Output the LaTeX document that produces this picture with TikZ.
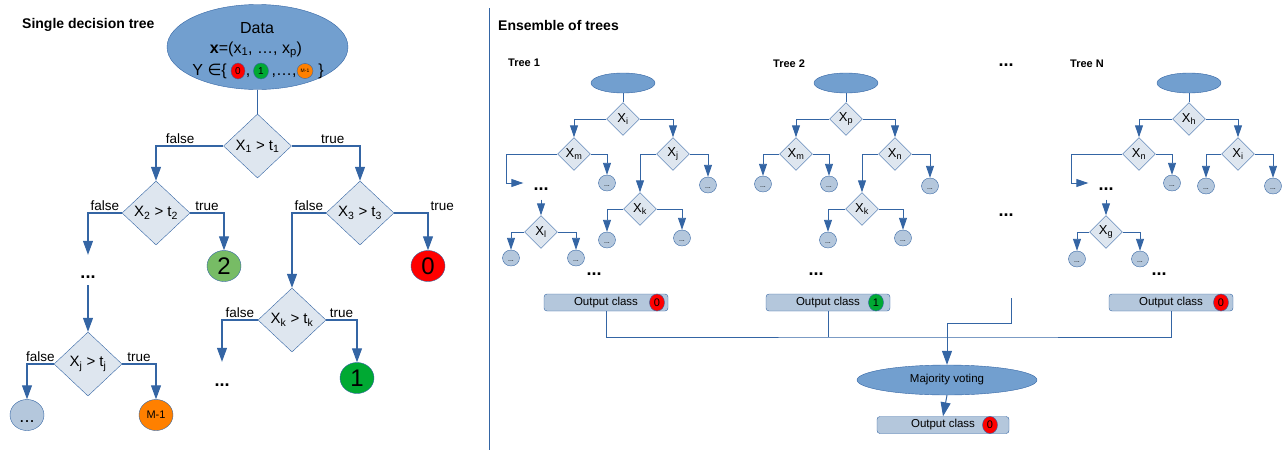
\documentclass[tikz,border=0pt]{standalone}
\usepackage{fontspec}
\setmainfont{Liberation Sans}
\newfontfamily\symfont{DejaVu Sans}
\usetikzlibrary{positioning, arrows.meta, shapes.geometric}

\definecolor{lineblue}{HTML}{3465A4}
\definecolor{rootblue}{HTML}{729FCF}
\definecolor{diamfill}{HTML}{DEE6EF}
\definecolor{leafblue}{HTML}{B4C7DC}
\definecolor{classred}{HTML}{FF0000}
\definecolor{classgreen}{HTML}{00A933}
\definecolor{lightgreen}{HTML}{77BC65}
\definecolor{classorange}{HTML}{FF8000}

\newcommand{\fsz}[1]{\fontsize{#1}{#1}\selectfont}

\begin{document}
\begin{tikzpicture}[
    x=1pt, y=-1pt,
    % Left tree styles
    datanode/.style={
        ellipse,
        draw=lineblue,
        fill=rootblue,
        minimum width=181pt,
        minimum height=85pt,
        inner sep=0pt
    },
    datatext/.style={
        font=\fsz{16},
        anchor=base,
        inner sep=0pt
    },
    bigdiamond/.style={
        diamond,
        draw=lineblue,
        fill=diamfill,
        minimum width=68pt,
        minimum height=64pt,
        inner sep=0pt,
        font=\fsz{15}
    },
    bigleaf/.style={
        ellipse,
        draw=lineblue,
        minimum width=34pt,
        minimum height=31pt,
        inner sep=0pt,
        font=\fsz{24}
    },
    branch/.style={
        font=\fsz{13.5},
        inner sep=2pt
    },
    arrow/.style={
        -{Triangle[width=10pt,length=14pt]},
        line width=1.1pt,
        draw=lineblue
    },
    plain/.style={
        line width=1pt,
        draw=lineblue
    },
    dots/.style={
        font=\bfseries\fsz{18},
        inner sep=0pt,
        text height=5pt,
        text depth=0pt
    },
    title/.style={
        font=\bfseries\fsz{14},
        anchor=west,
        inner sep=0pt
    },
    treetitle/.style={
        font=\bfseries\fsz{11},
        anchor=west,
        inner sep=0pt
    },
    % Ensemble styles
    rootnode/.style={
        ellipse,
        draw=lineblue,
        fill=rootblue,
        minimum width=64pt,
        minimum height=20pt,
        inner sep=0pt
    },
    split/.style={
        diamond,
        draw=lineblue,
        fill=diamfill,
        minimum width=33pt,
        minimum height=33pt,
        inner sep=0pt,
        font=\fsz{13}
    },
    leaf/.style={
        ellipse,
        draw=lineblue,
        fill=leafblue,
        minimum width=17pt,
        minimum height=16pt,
        inner sep=0pt,
        text height=6pt,
        text depth=0pt,
        font=\fsz{7}
    },
    tarrow/.style={
        -{Triangle[width=8pt,length=12pt]},
        line width=0.9pt,
        draw=lineblue
    },
    outbox/.style={
        rectangle,
        rounded corners=3pt,
        draw=lineblue,
        fill=leafblue,
        minimum width=124pt,
        minimum height=17pt,
        inner sep=0pt,
        font=\fsz{11.5}
    },
    classdot/.style={
        ellipse,
        draw=lineblue,
        minimum width=15pt,
        minimum height=17pt,
        inner sep=0pt,
        font=\fsz{11}
    },
    vote/.style={
        ellipse,
        draw=lineblue,
        fill=rootblue,
        minimum width=180pt,
        minimum height=30pt,
        inner sep=0pt,
        font=\fsz{11.5}
    }
]
\useasboundingbox (0,0) rectangle (1287,450);

% === Left: single decision tree ===
\node[title] (singletitle) at (22,25) {Single decision tree};

\node[datanode] (data) at (257.5,47) {};
\node[datatext] (dataA) at (257,33) {Data};
\node[datatext] (dataB) at (256,53) {\textbf{x}=(x\textsubscript{1}, …, x\textsubscript{p})};
\node[datatext, anchor=base east] (dataY) at (227,75) {Y {\symfont ∈}\{};
\node[classdot, fill=classred, minimum width=14pt, minimum height=16pt, font=\fsz{10}] (dY0) at (238,71) {0};
\node[datatext] (dYa) at (248,75) {,};
\node[classdot, fill=classgreen, minimum width=15pt, minimum height=16pt, font=\fsz{10}] (dY1) at (261,71) {1};
\node[datatext] (dYb) at (284,75) {,…,};
\node[classdot, fill=classorange, minimum width=16pt, minimum height=15pt, font=\fsz{5}] (dYm) at (305,71) {M-1};
\node[datatext] (dYc) at (321,75) {\}};

\node[bigdiamond] (x1) at (257.5,146) {X\textsubscript{1} > t\textsubscript{1}};
\node[bigdiamond] (x2) at (156,213) {X\textsubscript{2} > t\textsubscript{2}};
\node[bigdiamond] (x3) at (360,213) {X\textsubscript{3} > t\textsubscript{3}};
\node[bigdiamond] (xk) at (292,320) {X\textsubscript{k} > t\textsubscript{k}};
\node[bigdiamond] (xj) at (88,364) {X\textsubscript{j} > t\textsubscript{j}};

\node[bigleaf, fill=lightgreen] (leaf2) at (224,266) {2};
\node[bigleaf, fill=classred] (leaf0) at (428,266) {0};
\node[bigleaf, fill=classgreen] (leaf1) at (357,378) {1};
\node[bigleaf, fill=leafblue, font=\fsz{18}, text height=14pt, text depth=0pt] (leafd) at (27,415) {...};
\node[bigleaf, fill=classorange, font=\fsz{11}] (leafm) at (156,415) {M-1};

\node[dots] (dotsL1) at (88,275.5) {...};
\node[dots] (dotsL2) at (222,383.5) {...};

\draw[plain] (data.south) -- (x1.north);
\draw[arrow] (x1.west) -| node[branch, above, pos=0.32] {false} (x2.north);
\draw[arrow] (x1.east) -| node[branch, above, pos=0.30] {true} (x3.north);
\draw[arrow, shorten >=18pt] (x2.west) -| node[branch, above, pos=0.25] {false} (dotsL1.north);
\draw[arrow] (x2.east) -| node[branch, above, pos=0.25] {true} (leaf2.north);
\draw[arrow] (x3.west) -| node[branch, above, pos=0.25] {false} (xk.north);
\draw[arrow] (x3.east) -| node[branch, above right, pos=0.5] {true} (leaf0.north);
\draw[arrow, shorten <=7pt] (dotsL1.south) -- (xj.north);
\draw[arrow, shorten >=19pt] (xk.west) -| node[branch, above, pos=0.25] {false} (dotsL2.north);
\draw[arrow] (xk.east) -| node[branch, above, pos=0.25] {true} (leaf1.north);
\draw[arrow] (xj.west) -| node[branch, above, pos=0.25] {false} (leafd.north);
\draw[arrow] (xj.east) -| node[branch, above, pos=0.25] {true} (leafm.north);

% === Separator ===
\coordinate (sepT) at (489,8);
\coordinate (sepB) at (489,450);
\draw[lineblue, line width=0.8pt] (sepT) -- (sepB);

% === Right: ensemble of trees ===
\node[title] (enstitle) at (498,25) {Ensemble of trees};
\node[treetitle] (tAtitle) at (508,63) {Tree 1};
\node[treetitle] (tBtitle) at (773,64) {Tree 2};
\node[treetitle] (tNtitle) at (1070,64) {Tree N};
\node[dots] (midd1) at (1006,64) {...};
\node[dots] (midd2) at (1006,214) {...};

% Tree 1
\node[rootnode] (tAroot) at (623,83) {};
\node[split] (tAi) at (623,119) {X\textsubscript{i}};
\node[split] (tAm) at (574,154) {X\textsubscript{m}};
\node[split] (tAj) at (673,154) {X\textsubscript{j}};
\node[split] (tAk) at (640,209) {X\textsubscript{k}};
\node[split] (tAl) at (541,232) {X\textsubscript{l}};
\node[dots] (tAd1) at (541,188) {...};
\node[dots] (tAd2) at (594,273) {...};
\node[leaf] (tAmR) at (607,183) {...};
\node[leaf] (tAjR) at (708,185) {...};
\node[leaf] (tAkL) at (607,240) {...};
\node[leaf] (tAkR) at (682,238) {...};
\node[leaf] (tAlL) at (511,258) {...};
\node[leaf] (tAlR) at (576,258) {...};
\coordinate (tAbend) at (506,183);

\draw[plain] (tAroot) -- (tAi);
\draw[tarrow] (tAi.west) -| (tAm.north);
\draw[tarrow] (tAi.east) -| (tAj.north);
\draw[tarrow, shorten >=10pt] (tAm.west) -| (tAbend) -- (tAbend -| tAd1.west);
\draw[tarrow] (tAm.east) -| (tAmR.north);
\draw[tarrow] (tAj.west) -| (tAk.north);
\draw[tarrow] (tAj.east) -| (tAjR.north);
\draw[tarrow] (tAk.west) -| (tAkL.north);
\draw[tarrow] (tAk.east) -| (tAkR.north);
\draw[tarrow, shorten <=9pt] (tAd1.south) -- (tAl.north);
\draw[tarrow] (tAl.west) -| (tAlL.north);
\draw[tarrow] (tAl.east) -| (tAlR.north);

% Tree 2
\node[rootnode] (tBroot) at (846,83) {};
\node[split] (tBp) at (846,119) {X\textsubscript{p}};
\node[split] (tBm) at (796,154) {X\textsubscript{m}};
\node[split] (tBn) at (895,154) {X\textsubscript{n}};
\node[split] (tBk) at (862,209) {X\textsubscript{k}};
\node[dots] (tBd) at (816,273) {...};
\node[leaf] (tBmL) at (763,184) {...};
\node[leaf] (tBmR) at (829,184) {...};
\node[leaf] (tBnR) at (930,186) {...};
\node[leaf] (tBkL) at (828,240) {...};
\node[leaf] (tBkR) at (903,238) {...};

\draw[plain] (tBroot) -- (tBp);
\draw[tarrow] (tBp.west) -| (tBm.north);
\draw[tarrow] (tBp.east) -| (tBn.north);
\draw[tarrow] (tBm.west) -| (tBmL.north);
\draw[tarrow] (tBm.east) -| (tBmR.north);
\draw[tarrow] (tBn.west) -| (tBk.north);
\draw[tarrow] (tBn.east) -| (tBnR.north);
\draw[tarrow] (tBk.west) -| (tBkL.north);
\draw[tarrow] (tBk.east) -| (tBkR.north);

% Tree N
\node[rootnode] (tNroot) at (1189,83) {};
\node[split] (tNh) at (1189,119) {X\textsubscript{h}};
\node[split] (tNn) at (1139,154) {X\textsubscript{n}};
\node[split] (tNi) at (1238,154) {X\textsubscript{i}};
\node[split] (tNg) at (1106,232) {X\textsubscript{g}};
\node[dots] (tNd1) at (1106,188) {...};
\node[dots] (tNd2) at (1159,273) {...};
\node[leaf] (tNnR) at (1172,183) {...};
\node[leaf] (tNiL) at (1206,186) {...};
\node[leaf] (tNiR) at (1273,186) {...};
\node[leaf] (tNgL) at (1077,259) {...};
\node[leaf] (tNgR) at (1140,259) {...};
\coordinate (tNbend) at (1071,183);

\draw[plain] (tNroot) -- (tNh);
\draw[tarrow] (tNh.west) -| (tNn.north);
\draw[tarrow] (tNh.east) -| (tNi.north);
\draw[tarrow, shorten >=10pt] (tNn.west) -| (tNbend) -- (tNbend -| tNd1.west);
\draw[tarrow] (tNn.east) -| (tNnR.north);
\draw[tarrow] (tNi.west) -| (tNiL.north);
\draw[tarrow] (tNi.east) -| (tNiR.north);
\draw[tarrow, shorten <=9pt] (tNd1.south) -- (tNg.north);
\draw[tarrow] (tNg.west) -| (tNgL.north);
\draw[tarrow] (tNg.east) -| (tNgR.north);

% === Outputs and voting ===
\node[outbox] (outA) at (606,302.5) {Output class\hspace{16pt}};
\node[classdot, fill=classred] (clsA) at (657,302.5) {0};
\node[outbox] (outB) at (828,302.5) {Output class\hspace{16pt}};
\node[classdot, fill=classgreen] (clsB) at (876,302.5) {1};
\node[outbox] (outN) at (1171,302.5) {Output class\hspace{16pt}};
\node[classdot, fill=classred] (clsN) at (1221,302.5) {0};

\coordinate (midtop) at (1011,298);
\coordinate (turn) at (947,323);
\coordinate (join) at (947,337);
\node[vote] (vote) at (947,380) {Majority voting};
\node[outbox, minimum width=132pt] (outF) at (943,425) {Output class\hspace{15pt}};
\node[classdot, fill=classred] (clsF) at (990,425) {0};

\draw[plain] (outA.south) |- (join) -| (outN.south);
\draw[plain] (outB.south) -- (outB.south |- join);
\draw[arrow, line width=1pt] (midtop) |- (turn) -- (vote.north);
\draw[arrow, line width=1pt] (vote.south) -- (outF.north);

\end{tikzpicture}
\end{document}
